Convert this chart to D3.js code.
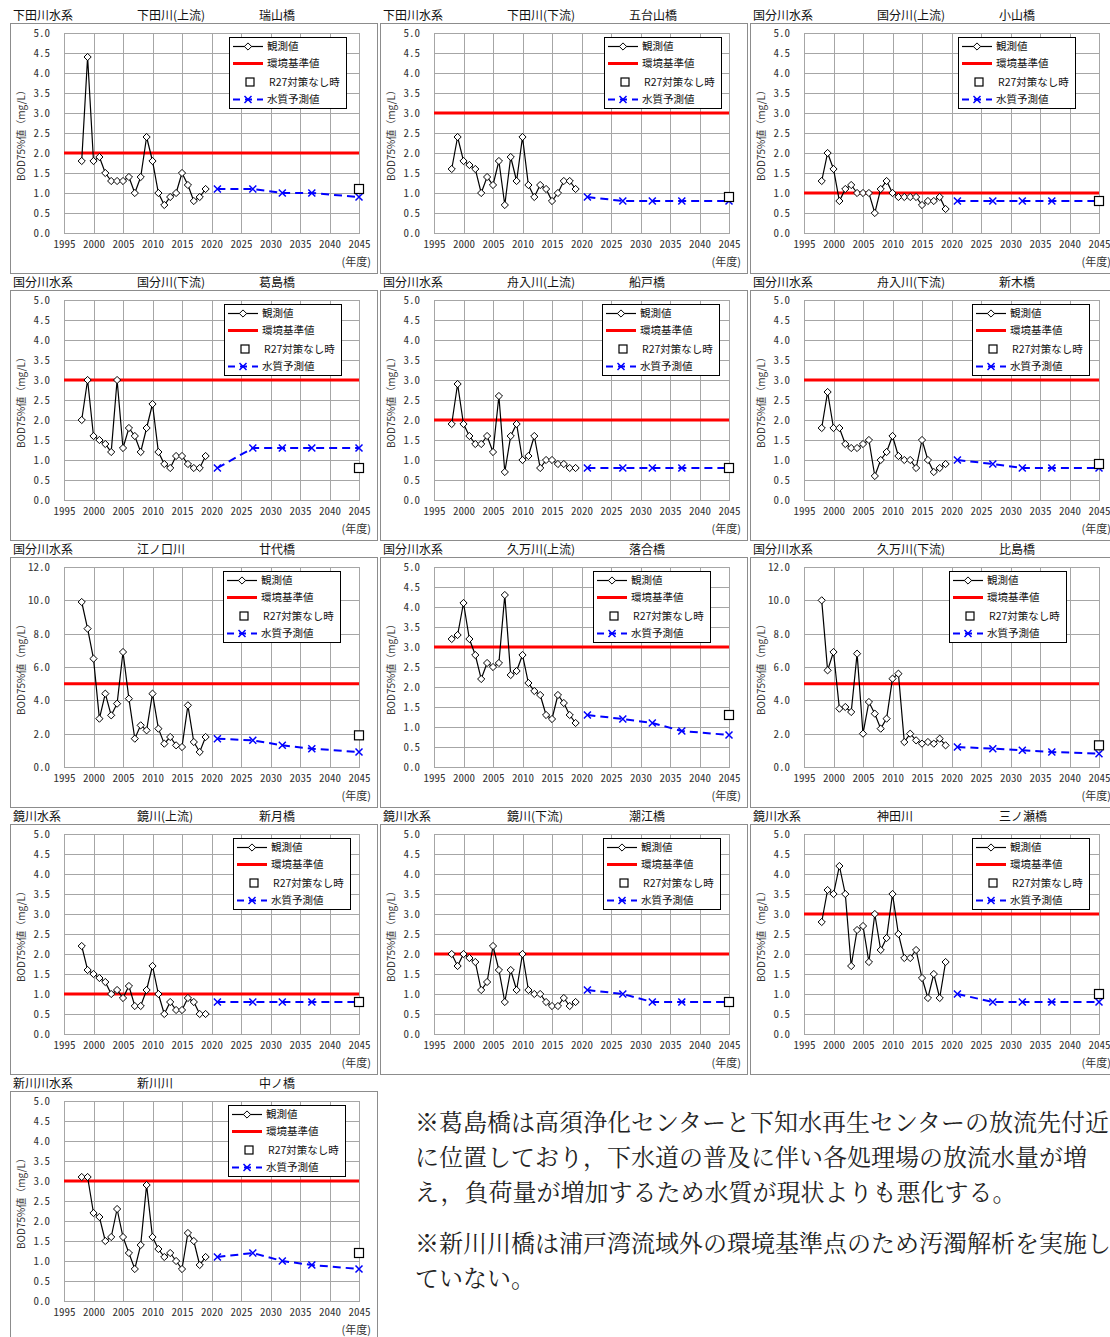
<!DOCTYPE html>
<html>
<head>
<meta charset="utf-8">
<script src="https://cdn.jsdelivr.net/npm/d3@7"></script>
<style>
  body { margin: 0; background: #fff; }
  svg { display: block; }
</style>
</head>
<body>
<svg id="chart" width="1110" height="1337"></svg>
<script>
// ---- data: BOD 75% values (mg/L) per monitoring station ----
const systems  = ["下田川水系","下田川水系","国分川水系","国分川水系","国分川水系","国分川水系","国分川水系","国分川水系","国分川水系","鏡川水系","鏡川水系","鏡川水系","新川川水系"];
const rivers   = ["下田川(上流)","下田川(下流)","国分川(上流)","国分川(下流)","舟入川(上流)","舟入川(下流)","江ノ口川","久万川(上流)","久万川(下流)","鏡川(上流)","鏡川(下流)","神田川","新川川"];
const stations = ["瑞山橋","五台山橋","小山橋","葛島橋","船戸橋","新木橋","廿代橋","落合橋","比島橋","新月橋","潮江橋","三ノ瀬橋","中ノ橋"];
const standards  = [2, 3, 1, 3, 2, 3, 5, 3, 5, 1, 2, 3, 3];
const yMaxes     = [5, 5, 5, 5, 5, 5, 12, 5, 12, 5, 5, 5, 5];
const noMeasures = [1.1, 0.9, 0.8, 0.8, 0.8, 0.9, 1.9, 1.3, 1.3, 0.8, 0.8, 1.0, 1.2];

const obsYears  = d3.range(1998, 2020);
const predYears = [2021, 2027, 2032, 2037, 2045];
const xTicks    = d3.range(1995, 2046, 5);

const observed = [
  [1.8,4.4,1.8,1.9,1.5,1.3,1.3,1.3,1.4,1.0,1.4,2.4,1.8,1.0,0.7,0.9,1.0,1.5,1.2,0.8,0.9,1.1],
  [1.6,2.4,1.8,1.7,1.6,1.0,1.4,1.2,1.8,0.7,1.9,1.3,2.4,1.2,0.9,1.2,1.1,0.8,1.0,1.3,1.3,1.1],
  [1.3,2.0,1.6,0.8,1.1,1.2,1.0,1.0,1.0,0.5,1.1,1.3,1.0,0.9,0.9,0.9,0.9,0.7,0.8,0.8,0.9,0.6],
  [2.0,3.0,1.6,1.5,1.4,1.2,3.0,1.3,1.8,1.6,1.2,1.8,2.4,1.2,0.9,0.8,1.1,1.1,0.9,0.8,0.8,1.1],
  [1.9,2.9,1.9,1.6,1.4,1.4,1.6,1.2,2.6,0.7,1.6,1.9,1.0,1.1,1.6,0.8,1.0,1.0,0.9,0.9,0.8,0.8],
  [1.8,2.7,1.8,1.8,1.4,1.3,1.3,1.4,1.5,0.6,1.0,1.2,1.6,1.1,1.0,1.0,0.8,1.5,1.0,0.7,0.8,0.9],
  [9.9,8.3,6.5,2.9,4.4,3.1,3.8,6.9,4.1,1.7,2.5,2.2,4.4,2.3,1.4,1.8,1.3,1.2,3.7,1.5,0.9,1.8],
  [3.2,3.3,4.1,3.2,2.8,2.2,2.6,2.5,2.6,4.3,2.3,2.4,2.8,2.1,1.9,1.8,1.3,1.2,1.8,1.6,1.3,1.1],
  [10.0,5.8,6.9,3.5,3.6,3.3,6.8,2.0,3.9,3.2,2.3,2.9,5.3,5.6,1.5,2.0,1.6,1.4,1.5,1.4,1.7,1.3],
  [2.2,1.6,1.5,1.4,1.3,1.0,1.1,0.9,1.2,0.7,0.7,1.1,1.7,1.0,0.5,0.8,0.6,0.6,0.9,0.8,0.5,0.5],
  [2.0,1.7,2.0,1.9,1.8,1.1,1.3,2.2,1.6,0.8,1.6,1.1,2.0,1.1,1.0,1.0,0.8,0.7,0.7,0.9,0.7,0.8],
  [2.8,3.6,3.5,4.2,3.5,1.7,2.6,2.7,1.8,3.0,2.1,2.4,3.5,2.5,1.9,1.9,2.1,1.4,0.9,1.5,0.9,1.8],
  [3.1,3.1,2.2,2.1,1.5,1.6,2.3,1.6,1.2,0.8,1.4,2.9,1.6,1.3,1.1,1.2,1.0,0.8,1.7,1.5,0.9,1.1]
];

const predicted = [
  [1.1,1.1,1.0,1.0,0.9],
  [0.9,0.8,0.8,0.8,0.8],
  [0.8,0.8,0.8,0.8,0.8],
  [0.8,1.3,1.3,1.3,1.3],
  [0.8,0.8,0.8,0.8,0.8],
  [1.0,0.9,0.8,0.8,0.8],
  [1.7,1.6,1.3,1.1,0.9],
  [1.3,1.2,1.1,0.9,0.8],
  [1.2,1.1,1.0,0.9,0.8],
  [0.8,0.8,0.8,0.8,0.8],
  [1.1,1.0,0.8,0.8,0.8],
  [1.0,0.8,0.8,0.8,0.8],
  [1.1,1.2,1.0,0.9,0.8]
];

const legendLabels = ["観測値", "環境基準値", "R27対策なし時", "水質予測値"];

const notes = [
  ["※葛島橋は高須浄化センターと下知水再生センターの放流先付近",
   "に位置しており，下水道の普及に伴い各処理場の放流水量が増",
   "え，負荷量が増加するため水質が現状よりも悪化する。"],
  ["※新川川橋は浦戸湾流域外の環境基準点のため汚濁解析を実施し",
   "ていない。"]
];

// ---- layout ----
const legendLeft = [229, 234, 218, 224, 232, 232, 223, 223, 209, 233, 233, 232, 228];
const colStep = 370, rowStep = 267;
const plot = { left: 64, right: 359, top: 33, bottom: 233 };
const jp = '"Noto Sans CJK JP", sans-serif';
const mono = '"Noto Sans Mono CJK JP", "Noto Sans CJK JP", sans-serif';
const gridColor = "#a6a6a6";

const svg = d3.select("#chart");
svg.append("rect").attr("width", 1110).attr("height", 1337).attr("fill", "#fff");

const diamond = s => `M0,${-s}L${s},0L0,${s}L${-s},0Z`;
const cross = s => `M${-s},${-s}L${s},${s}M${-s},${s}L${s},${-s}`;

systems.forEach((sys, i) => {
  const ox = (i % 3) * colStep, oy = Math.floor(i / 3) * rowStep;
  const g = svg.append("g").attr("transform", `translate(${ox},${oy})`);

  // panel frame
  g.append("rect").attr("x", 10.5).attr("y", 23.5).attr("width", 367).attr("height", 250)
    .attr("fill", "none").attr("stroke", "#8c8c8c");

  // panel header
  [[13, sys], [137, rivers[i]], [259, stations[i]]].forEach(([x, t]) => {
    g.append("text").attr("x", x).attr("y", 20).text(t)
      .attr("font-family", jp).attr("font-size", 12).attr("fill", "#111");
  });

  const x = d3.scaleLinear().domain([1995, 2045]).range([plot.left, plot.right]);
  const y = d3.scaleLinear().domain([0, yMaxes[i]]).range([plot.bottom, plot.top]);
  const yTicks = yMaxes[i] > 5 ? d3.range(0, yMaxes[i] + 0.01, 2) : d3.range(0, 5.01, 0.5);
  const w = plot.right - plot.left, h = plot.bottom - plot.top;

  // axes with full-length grid lines
  const xa = g.append("g").attr("transform", `translate(0,${plot.bottom})`)
    .call(d3.axisBottom(x).tickValues(xTicks).tickSizeInner(-h).tickSizeOuter(0)
      .tickPadding(7).tickFormat(d3.format("d")));
  const ya = g.append("g").attr("transform", `translate(${plot.left},0)`)
    .call(d3.axisLeft(y).tickValues(yTicks).tickSizeInner(-w).tickSizeOuter(0)
      .tickPadding(14).tickFormat(d3.format(".1f")));
  [xa, ya].forEach(a => {
    a.select(".domain").remove();
    a.selectAll(".tick line").attr("stroke", gridColor).attr("shape-rendering", "crispEdges");
    a.selectAll("text").attr("font-family", mono).attr("font-size", 11).attr("fill", "#333");
  });
  g.append("rect").attr("x", plot.left).attr("y", plot.top).attr("width", w).attr("height", h)
    .attr("fill", "none").attr("stroke", gridColor).attr("shape-rendering", "crispEdges");

  // axis titles
  g.append("text").attr("transform", `translate(25,${(plot.top + plot.bottom) / 2}) rotate(-90)`)
    .attr("text-anchor", "middle").text("BOD75%値（mg/L）")
    .attr("font-family", jp).attr("font-size", 10).attr("fill", "#333");
  g.append("text").attr("x", 371).attr("y", 266).attr("text-anchor", "end").text("(年度)")
    .attr("font-family", jp).attr("font-size", 11).attr("fill", "#333");

  // environmental standard
  g.append("line").attr("x1", x(1995)).attr("x2", x(2045))
    .attr("y1", y(standards[i])).attr("y2", y(standards[i]))
    .attr("stroke", "#ff0000").attr("stroke-width", 3);

  // observed series
  const obs = obsYears.map((yr, k) => [yr, observed[i][k]]);
  const line = d3.line().x(d => x(d[0])).y(d => y(d[1]));
  g.append("path").datum(obs).attr("d", line).attr("fill", "none")
    .attr("stroke", "#000").attr("stroke-width", 1.2);
  g.selectAll(".obs").data(obs).join("path").attr("class", "obs")
    .attr("transform", d => `translate(${x(d[0])},${y(d[1])})`)
    .attr("d", diamond(3.6)).attr("fill", "#fff").attr("stroke", "#000").attr("stroke-width", 1);

  // predicted series
  const pred = predYears.map((yr, k) => [yr, predicted[i][k]]);
  g.append("path").datum(pred).attr("d", line).attr("fill", "none")
    .attr("stroke", "#0000ff").attr("stroke-width", 2).attr("stroke-dasharray", "8,5");
  g.selectAll(".pred").data(pred).join("path").attr("class", "pred")
    .attr("transform", d => `translate(${x(d[0])},${y(d[1])})`)
    .attr("d", cross(3.5)).attr("stroke", "#0000ff").attr("stroke-width", 1.5);

  // no-measure scenario (2045)
  g.append("rect").attr("x", x(2045) - 4.5).attr("y", y(noMeasures[i]) - 4.5)
    .attr("width", 9).attr("height", 9).attr("fill", "#fff")
    .attr("stroke", "#000").attr("stroke-width", 1.2);

  // legend
  const lg = g.append("g").attr("transform", `translate(${legendLeft[i]},37)`);
  lg.append("rect").attr("x", 0.5).attr("y", 0.5).attr("width", 117).attr("height", 71)
    .attr("fill", "#fff").attr("stroke", "#000").attr("stroke-width", 1);
  const rows = [9.5, 26.5, 45, 62.5];
  lg.append("line").attr("x1", 4).attr("x2", 34).attr("y1", rows[0]).attr("y2", rows[0])
    .attr("stroke", "#000").attr("stroke-width", 1.2);
  lg.append("path").attr("transform", `translate(19,${rows[0]})`).attr("d", diamond(3.6))
    .attr("fill", "#fff").attr("stroke", "#000");
  lg.append("line").attr("x1", 4).attr("x2", 34).attr("y1", rows[1]).attr("y2", rows[1])
    .attr("stroke", "#ff0000").attr("stroke-width", 3);
  lg.append("rect").attr("x", 17).attr("y", rows[2] - 4).attr("width", 8).attr("height", 8)
    .attr("fill", "#fff").attr("stroke", "#000").attr("stroke-width", 1.2);
  lg.append("line").attr("x1", 4).attr("x2", 34).attr("y1", rows[3]).attr("y2", rows[3])
    .attr("stroke", "#0000ff").attr("stroke-width", 2).attr("stroke-dasharray", "7,5");
  lg.append("path").attr("transform", `translate(19,${rows[3]})`).attr("d", cross(3.5))
    .attr("stroke", "#0000ff").attr("stroke-width", 1.5);
  legendLabels.forEach((t, k) => {
    lg.append("text").attr("x", k === 2 ? 40 : 38).attr("y", rows[k]).attr("dy", "0.36em").text(t)
      .attr("font-family", jp).attr("font-size", 10.5).attr("fill", "#111");
  });
});

// explanatory notes
const noteStart = [1131, 1252];
notes.forEach((para, p) => {
  para.forEach((t, k) => {
    svg.append("text").attr("x", 415).attr("y", noteStart[p] + k * 35).text(t)
      .attr("font-family", '"Noto Serif CJK JP", "Noto Sans CJK JP", serif')
      .attr("font-size", 24).attr("fill", "#222");
  });
});
</script>
</body>
</html>
